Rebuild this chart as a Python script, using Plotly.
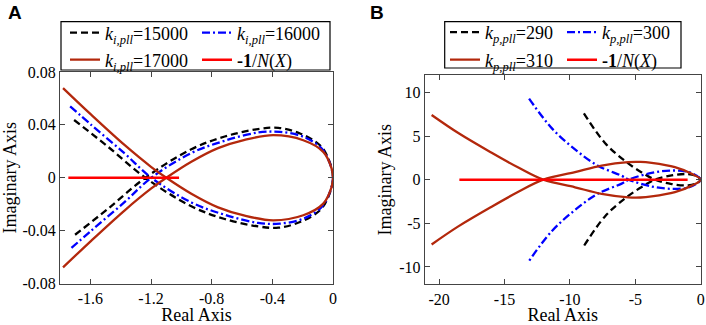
import plotly.graph_objects as go

W, H = 706, 325

# ---------------- Panel A data (one branch; other branch is its mirror) -------------
a15_x = [-1.707, -1.483, -1.237, -0.934, -0.714, -0.494, -0.36, -0.2175, -0.086, -0.031, 0.0]
a15_y = [0.0437, 0.0234, 0.0, -0.0216, -0.0312, -0.0368, -0.0378, -0.0335, -0.0246, -0.0145, 0.0]
a16_x = [-1.733, -1.593, -1.373, -1.198, -0.934, -0.714, -0.494, -0.35, -0.196, -0.0745, -0.02, 0.0]
a16_y = [0.054, 0.0399, 0.0183, 0.0, -0.0187, -0.028, -0.0342, -0.0347, -0.031, -0.0221, -0.0107, 0.0]
a17_x = [-1.78, -1.593, -1.373, -1.198, -1.099, -0.934, -0.758, -0.582, -0.394, -0.196, -0.064, -0.009, 0.0]
a17_y = [0.0678, 0.0475, 0.0246, 0.0081, 0.0, -0.0121, -0.0224, -0.0287, -0.0322, -0.0284, -0.0196, -0.0069, 0.0]
a_nx = [-1.745, -1.015]
a_ny = [0.0, 0.0]

# ---------------- Panel B data ----------------
b290_x = [-8.93, -7.32, -5.79, -4.51, -3.49, -2.22, -0.95, -0.31, 0.0]
b290_y = [7.6, 4.21, 2.15, 0.83, 0.0, -0.5, -0.64, -0.4, 0.0]
b300_x = [-13.12, -11.39, -9.61, -7.83, -6.04, -5.5, -3.75, -2.22, -0.95, -0.31, 0.0]
b300_y = [9.3, 5.91, 3.47, 1.58, 0.45, 0.0, -0.78, -1.05, -0.9, -0.45, 0.0]
b310_x = [-20.57, -18.53, -15.98, -13.94, -12.03, -9.61, -7.57, -5.54, -4.6, -3.75, -1.97, -0.69, 0.0]
b310_y = [7.42, 5.35, 3.09, 1.39, 0.0, -0.87, -1.62, -2.02, -2.04, -1.92, -1.43, -0.68, 0.0]
b_nx = [-18.45, -1.0]
b_ny = [0.0, 0.0]

# tick labels
a_xticks = [-1.6, -1.2, -0.8, -0.4, 0]
a_xtext = ["-1.6", "-1.2", "-0.8", "-0.4", "0"]
a_yticks = [-0.08, -0.04, 0, 0.04, 0.08]
a_ytext = ["-0.08", "-0.04", "0", "0.04", "0.08"]
b_xticks = [-20, -15, -10, -5, 0]
b_xtext = ["-20", "-15", "-10", "-5", "0"]
b_yticks = [-10, -5, 0, 5, 10]
b_ytext = ["-10", "-5", "0", "5", "10"]

BLACK = "#000000"
BLUE = "#0000ff"
BROWN = "#b3280c"
RED = "#ff0000"
SERIF = "Liberation Serif, Times New Roman, serif"


def full_loop(xs, ys):
    # branch, then its mirror traversed back from the origin
    fx = list(xs) + list(reversed(xs[:-1]))
    fy = list(ys) + [-v for v in reversed(ys[:-1])]
    return fx, fy


def ki(v):
    return "<i>k</i><sub><i>i,pll</i></sub>=" + v


def kp(v):
    return "<i>k</i><sub><i>p,pll</i></sub>=" + v


NX = "<b>-1</b>/<i>N</i>(<i>X</i>)"

fig = go.Figure()

def add_curve(xs, ys, name, color, dash, xa, ya, legend, width=2.3):
    fx, fy = full_loop(xs, ys)
    fig.add_trace(go.Scatter(
        x=fx, y=fy, mode="lines", name=name, xaxis=xa, yaxis=ya, legend=legend,
        line=dict(color=color, width=width, dash=dash, shape="spline",
                  smoothing=1.0, simplify=False)))

DASH = "7px,4px"
DASHDOT = "8px,3px,2px,3px"

add_curve(a15_x, a15_y, ki("15000"), BLACK, DASH, "x", "y", "legend")
add_curve(a16_x, a16_y, ki("16000"), BLUE, DASHDOT, "x", "y", "legend")
add_curve(a17_x, a17_y, ki("17000"), BROWN, "solid", "x", "y", "legend2")
fig.add_trace(go.Scatter(x=a_nx, y=a_ny, mode="lines", name=NX, xaxis="x", yaxis="y",
                         legend="legend2", line=dict(color=RED, width=2.6)))

add_curve(b290_x, b290_y, kp("290"), BLACK, DASH, "x2", "y2", "legend3")
add_curve(b300_x, b300_y, kp("300"), BLUE, DASHDOT, "x2", "y2", "legend3")
add_curve(b310_x, b310_y, kp("310"), BROWN, "solid", "x2", "y2", "legend4")
fig.add_trace(go.Scatter(x=b_nx, y=b_ny, mode="lines", name=NX, xaxis="x2", yaxis="y2",
                         legend="legend4", line=dict(color=RED, width=2.6)))

px = lambda v: v / W
py = lambda v: 1 - v / H

axis_common = dict(
    showline=True, linecolor="#444444", linewidth=1, mirror="ticks",
    ticks="inside", ticklen=5, tickcolor="#444444", tickwidth=1,
    showgrid=False, zeroline=False,
    tickfont=dict(family=SERIF, size=16, color="#000000"),
    title_font=dict(family=SERIF, size=18, color="#000000"),
)

fig.update_layout(
    width=W, height=H, template="none",
    paper_bgcolor="white", plot_bgcolor="white",
    margin=dict(l=0, r=0, t=0, b=0),
    xaxis=dict(domain=[px(60), px(333)], range=[-1.8, 0], anchor="y",
               tickmode="array", tickvals=a_xticks, ticktext=a_xtext,
               title=dict(text="Real Axis", standoff=2), **axis_common),
    yaxis=dict(domain=[py(283.5), py(72)], range=[-0.08, 0.08], anchor="x",
               tickmode="array", tickvals=a_yticks, ticktext=a_ytext,
               title=dict(text="Imaginary Axis", standoff=2), **axis_common),
    xaxis2=dict(domain=[px(424.7), px(700.7)], range=[-21.1, 0], anchor="y2",
                tickmode="array", tickvals=b_xticks, ticktext=b_xtext,
                title=dict(text="Real Axis", standoff=2), **axis_common),
    yaxis2=dict(domain=[py(284.4), py(75)], range=[-12, 12], anchor="x2",
                tickmode="array", tickvals=b_yticks, ticktext=b_ytext,
                title=dict(text="Imaginary Axis", standoff=2), **axis_common),
    showlegend=True,
)

leg_common = dict(orientation="h", xanchor="left", yanchor="middle",
                  bgcolor="rgba(0,0,0,0)", borderwidth=0,
                  font=dict(family=SERIF, size=18, color="#000000"),
                  entrywidthmode="pixels", itemclick=False, itemdoubleclick=False)

fig.update_layout(
    legend=dict(x=px(65), y=py(33), entrywidth=87, **leg_common),
    legend2=dict(x=px(65), y=py(60), entrywidth=87, **leg_common),
    legend3=dict(x=px(445), y=py(32.5), entrywidth=72, **leg_common),
    legend4=dict(x=px(445), y=py(60), entrywidth=72, **leg_common),
)

# legend frames
for x0, x1, y0, y1 in [(61, 330, 21.7, 70), (444.7, 681, 21.7, 68)]:
    fig.add_shape(type="rect", xref="paper", yref="paper",
                  x0=px(x0), x1=px(x1), y0=py(y1), y1=py(y0),
                  line=dict(color="#000000", width=1.2), fillcolor="rgba(0,0,0,0)")

# panel letters
for txt, xc in [("A", 14.5), ("B", 377)]:
    fig.add_annotation(text="<b>" + txt + "</b>", xref="paper", yref="paper",
                       x=px(xc), y=py(12.5), xanchor="center", yanchor="middle",
                       showarrow=False,
                       font=dict(family="Liberation Sans, Arial, sans-serif", size=19, color="#000000"))

fig.write_html("out.html", config={"displayModeBar": False},
               post_script="document.body.style.margin='0';")
